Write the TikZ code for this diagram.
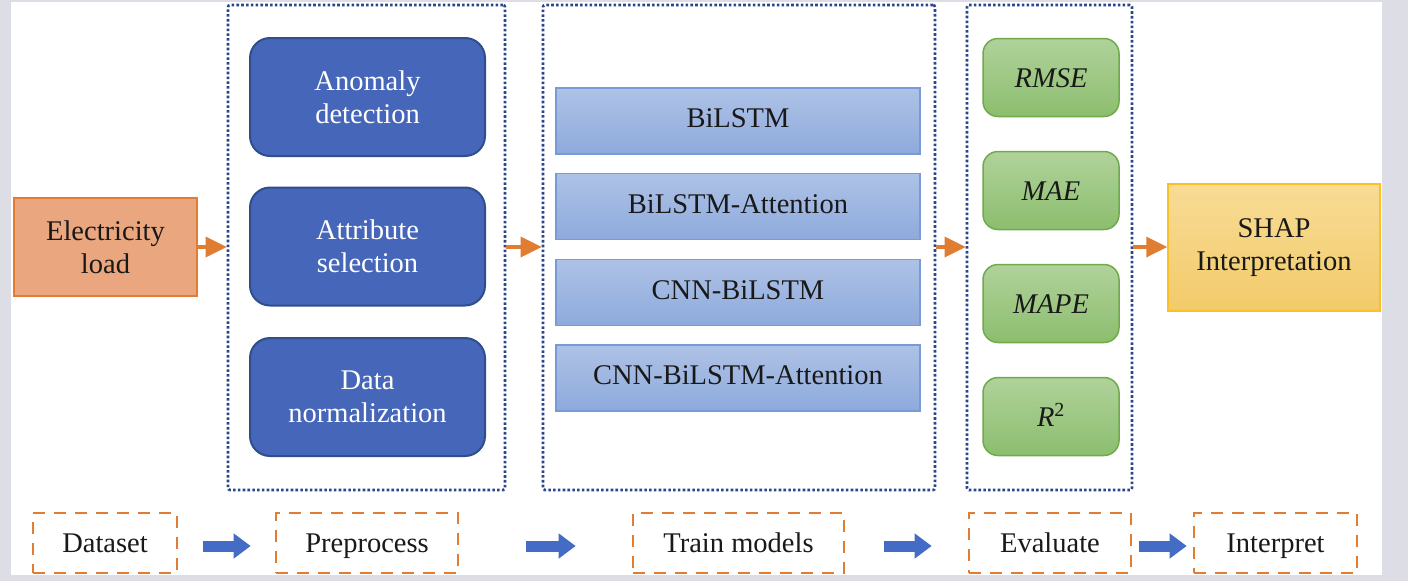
\documentclass[tikz,border=0pt]{standalone}
\usepackage{fontspec}
\setmainfont{Liberation Serif}
\usepackage{tikz}
\usetikzlibrary{arrows.meta, positioning, calc, backgrounds}
\definecolor{frameGrey}{RGB}{220, 221, 229}
\definecolor{frameBlue}{RGB}{44, 70, 140}
\definecolor{flowOrange}{RGB}{224, 125, 50}
\definecolor{elecFill}{RGB}{234, 166, 126}
\definecolor{prepFill}{RGB}{70, 102, 186}
\definecolor{prepLine}{RGB}{47, 78, 140}
\definecolor{modelTop}{RGB}{174, 194, 230}
\definecolor{modelBot}{RGB}{142, 170, 220}
\definecolor{modelLine}{RGB}{120, 155, 215}
\definecolor{metricTop}{RGB}{176, 210, 155}
\definecolor{metricBot}{RGB}{140, 190, 110}
\definecolor{metricLine}{RGB}{112, 170, 75}
\definecolor{shapTop}{RGB}{248, 220, 150}
\definecolor{shapBot}{RGB}{242, 202, 105}
\definecolor{shapLine}{RGB}{250, 192, 40}
\definecolor{stepBlue}{RGB}{68, 108, 196}
\definecolor{textBlack}{RGB}{25, 25, 25}
\tikzset{
    bigText/.style={font=\fontsize{28.5}{33}\selectfont, text=textBlack, align=center},
    oneLine/.style={text height=25pt, text depth=6pt},
    stageFrame/.style={draw=frameBlue, line width=2.6pt, dash pattern=on 2.6pt off 2.2pt,
        rounded corners=2pt, inner sep=0pt},
    elecBox/.style={bigText, fill=elecFill, draw=flowOrange, line width=1.5pt, inner sep=0pt},
    prepBox/.style={bigText, text=white, fill=prepFill, draw=prepLine, line width=2pt,
        rounded corners=20pt, minimum width=235pt, minimum height=118pt, inner sep=0pt},
    modelBox/.style={bigText, text height=19pt, text depth=6pt, top color=modelTop,
        bottom color=modelBot, draw=modelLine, line width=1.2pt, minimum width=364pt,
        minimum height=66pt, inner sep=0pt},
    metricBox/.style={bigText, oneLine, font=\fontsize{28.5}{33}\selectfont\itshape, top color=metricTop,
        bottom color=metricBot, draw=metricLine, line width=1.5pt, rounded corners=15pt,
        minimum width=136pt, minimum height=78pt, inner sep=0pt},
    shapBox/.style={bigText, top color=shapTop, bottom color=shapBot, draw=shapLine,
        line width=1.5pt, minimum width=212pt, minimum height=127pt, inner sep=0pt},
    stepLabel/.style={bigText, oneLine, draw=flowOrange, line width=2.6pt, dash pattern=on 12pt off 9pt,
        minimum height=60pt, inner sep=0pt},
    flowArrow/.style={draw=flowOrange, line width=3.5pt, -{Triangle[length=21pt, width=20pt]}},
    stepArrow/.style={draw=stepBlue, line width=11pt, -{Triangle[length=17pt, width=24pt]}},
}
\begin{document}
\begin{tikzpicture}[x=1pt, y=-1pt]

    % PAGE
    \fill[frameGrey] (0,0) rectangle (1408,581);
    \fill[white] (11,2) rectangle (1382,575);
    \useasboundingbox (0,0) rectangle (1408,581);

    % INPUT
    \node[elecBox, minimum width=183pt, minimum height=98pt] (elec) at (105.5,247) {Electricity\\load};

    % PREPROCESS
    \node[stageFrame, minimum width=277pt, minimum height=485pt] (prepFrame) at (366.5,247.5) {};
    \node[prepBox] (anomaly) at (367.5,97) {Anomaly\\detection};
    \node[prepBox] (attr) at (367.5,246.5) {Attribute\\selection};
    \node[prepBox] (norm) at (367.5,397) {Data\\normalization};

    % TRAIN MODELS
    \node[stageFrame, minimum width=392pt, minimum height=485pt] (trainFrame) at (739,247.5) {};
    \node[modelBox] (bilstm) at (738,121) {BiLSTM};
    \node[modelBox] (bilstmAtt) at (738,206.5) {BiLSTM-Attention};
    \node[modelBox] (cnnBilstm) at (738,292.5) {CNN-BiLSTM};
    \node[modelBox] (cnnBilstmAtt) at (738,378) {CNN-BiLSTM-Attention};

    % EVALUATE
    \node[stageFrame, minimum width=165pt, minimum height=485pt] (evalFrame) at (1049.5,247.5) {};
    \node[metricBox] (rmse) at (1051,77.5) {RMSE};
    \node[metricBox] (mae) at (1051,190.5) {MAE};
    \node[metricBox] (mape) at (1051,303.5) {MAPE};
    \node[metricBox] (rsq) at (1051,416.5) {R\textsuperscript{\upshape 2}};

    % INTERPRET
    \node[shapBox] (shap) at (1274,247.5) {SHAP\\Interpretation};

    \draw[flowArrow] (elec.east) -- (elec.east -| prepFrame.west);
    \draw[flowArrow] (prepFrame.east |- elec.east) -- (trainFrame.west |- elec.east);
    \draw[flowArrow] (trainFrame.east |- elec.east) -- (evalFrame.west |- elec.east);
    \draw[flowArrow] (evalFrame.east |- elec.east) -- (shap.west |- elec.east);

    % STEP LABELS
    \node[stepLabel, minimum width=144pt] (stepData) at (105,543) {Dataset};
    \node[stepLabel, minimum width=182pt] (stepPrep) at (367,543) {Preprocess};
    \node[stepLabel, minimum width=211pt] (stepTrain) at (738.5,543) {Train models};
    \node[stepLabel, minimum width=162pt] (stepEval) at (1050,543) {Evaluate};
    \node[stepLabel, minimum width=163pt] (stepInterp) at (1275.5,543) {Interpret};

    \draw[stepArrow, shorten <=25pt, shorten >=24pt] ([yshift=-3pt]stepData.east) -- ([yshift=-3pt]stepPrep.west);
    \draw[stepArrow, shorten <=67pt, shorten >=56pt] ([yshift=-3pt]stepPrep.east) -- ([yshift=-3pt]stepTrain.west);
    \draw[stepArrow, shorten <=39pt, shorten >=36pt] ([yshift=-3pt]stepTrain.east) -- ([yshift=-3pt]stepEval.west);
    \draw[stepArrow, shorten <=7pt, shorten >=6pt] ([yshift=-3pt]stepEval.east) -- ([yshift=-3pt]stepInterp.west);

\end{tikzpicture}
\end{document}
